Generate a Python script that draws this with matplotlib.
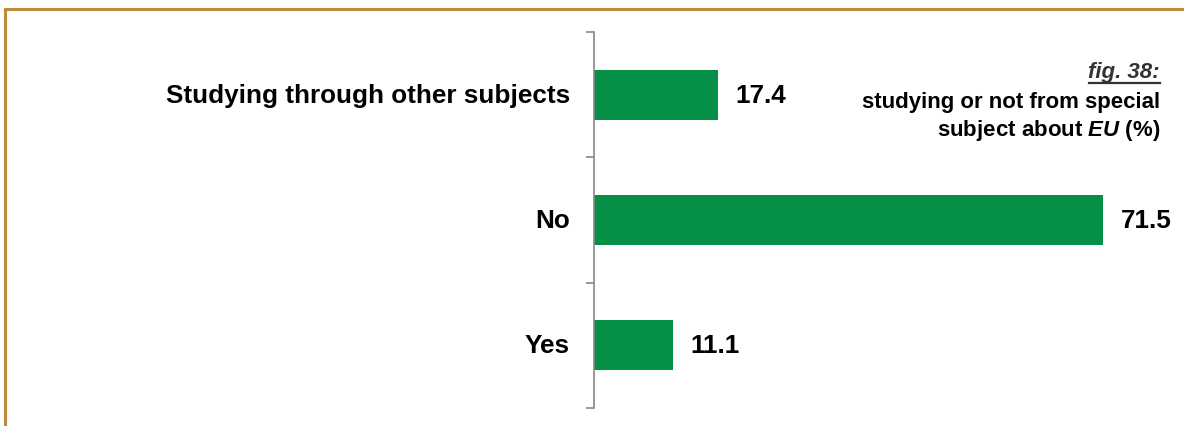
import matplotlib.pyplot as plt
from matplotlib.lines import Line2D

plt.rcParams['font.family'] = ['Liberation Sans', 'DejaVu Sans']
plt.rcParams['mathtext.fontset'] = 'custom'
plt.rcParams['mathtext.bfit'] = 'Liberation Sans:bold:italic'

categories = ['Yes', 'No', 'Studying through other subjects']
values = [11.1, 71.5, 17.4]

bar_color = '#068f47'
frame_color = '#c08a3e'
W, H = 1184, 427

fig = plt.figure(figsize=(W / 100, H / 100), dpi=100)
ax = fig.add_axes([594 / W, 1 - 409 / H, 570 / W, 376 / H])

pos = list(range(len(categories)))
ax.barh(pos, values, height=0.4, color=bar_color, edgecolor='none')
ax.set_xlim(0, 80)
ax.set_ylim(-0.5, len(categories) - 0.5)

for p, v in zip(pos, values):
    ax.text(v + 2.4, p, f'{v:.1f}', va='center', ha='left',
            fontsize=18.8, fontweight='bold')
    ax.text(-3.4, p, categories[p], va='center', ha='right',
            fontsize=18.8, fontweight='bold')

# category separators as ticks on the left spine
ax.set_yticks([p - 0.5 for p in pos] + [pos[-1] + 0.5])
ax.set_yticklabels([])
ax.tick_params(axis='y', direction='out', length=5.5, width=1.2, color='#888888')
ax.set_xticks([])
for s in ['top', 'right', 'bottom']:
    ax.spines[s].set_visible(False)
ax.spines['left'].set_color('#888888')
ax.spines['left'].set_linewidth(1.2)

# caption block in the upper right corner
fig_label = fig.text(1160 / W, 1 - 78 / H, 'fig. 38:', ha='right', va='baseline',
                     fontsize=16, fontweight='bold', style='italic', color='#333333')
fig.text(1160 / W, 1 - 108 / H, 'studying or not from special',
         ha='right', va='baseline', fontsize=16, fontweight='bold')
fig.text(1160 / W, 1 - 136 / H, r'subject about $\mathbfit{EU}$ (%)',
         ha='right', va='baseline', fontsize=16, fontweight='bold')

# underline under the figure number
fig.canvas.draw()
bb = fig_label.get_window_extent()
fig.add_artist(Line2D([bb.x0 / W, bb.x1 / W], [1 - 84 / H, 1 - 84 / H],
                      color='#333333', lw=1.6))

# brown frame along the top and left edge
fig.add_artist(Line2D([4.5 / W, 1], [1 - 9.5 / H, 1 - 9.5 / H],
                      color=frame_color, lw=2.2))
fig.add_artist(Line2D([4.5 / W, 4.5 / W], [0, 1 - 9.5 / H],
                      color=frame_color, lw=2.2))

fig.savefig('out.png', dpi=100, facecolor='white')
